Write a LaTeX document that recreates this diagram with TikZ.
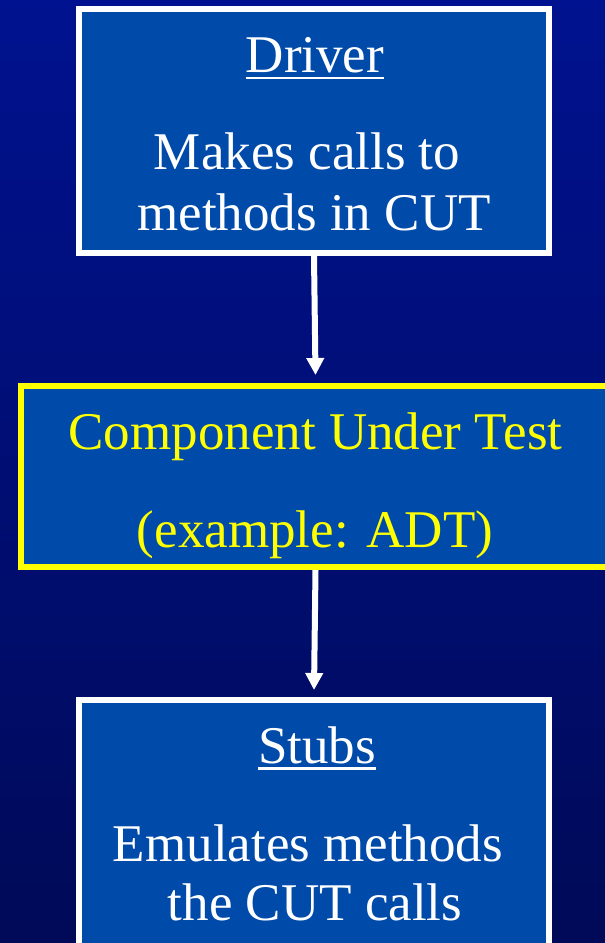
\documentclass[tikz,border=0pt]{standalone}
\usepackage{fontspec}
\setmainfont{Liberation Serif}
\usetikzlibrary{arrows.meta}
\definecolor{bgtop}{HTML}{00128F}
\definecolor{bgbot}{HTML}{000A58}
\definecolor{boxfill}{HTML}{004AAA}
\definecolor{cutyellow}{HTML}{FFFF00}
\begin{document}
\begin{tikzpicture}[x=1pt,y=-1pt,
  box/.style={rectangle,draw=white,line width=6pt,fill=boxfill,inner sep=0pt},
  cutbox/.style={box,draw=cutyellow},
  label/.style={text=white,inner sep=0pt,anchor=base,font=\fontsize{53}{61}\selectfont},
  ylabel/.style={label,text=cutyellow},
  uline/.style={draw=white,line width=2.5pt},
  flow/.style={draw=white,line width=6pt,-{Triangle[width=17pt,length=17pt]}}]
\useasboundingbox (0,0) rectangle (605,943);
\clip (0,0) rectangle (605,943);
\shade[top color=bgtop,bottom color=bgbot] (0,0) rectangle (605,943);
% boxes
\node[box,minimum width=470pt,minimum height=244pt] (driver) at (314,131) {};
\node[cutbox,minimum width=589pt,minimum height=181pt] (cut) at (315.5,476.5) {};
\node[box,minimum width=470pt,minimum height=246pt] (stubs) at (314,823) {};
% connectors
\draw[flow] (driver.south) -- ([yshift=8pt]cut.north);
\draw[flow] (cut.south) -- ([yshift=7pt]stubs.north);
% texts
\node[label] (dtitle) at (315,72) {Driver};
\draw[uline] ([yshift=-6pt]dtitle.base west) -- ([yshift=-6pt]dtitle.base east);
\node[label] (d1) at (307,169) {Makes calls to};
\node[label] (d2) at (314,230) {methods in CUT};
\node[ylabel] (c1) at (315.5,449) {Component Under Test};
\node[ylabel] (c2) at (315,547) {(example: ADT)};
\node[label] (stitle) at (317,763) {Stubs};
\draw[uline] ([yshift=-5.5pt]stitle.base west) -- ([yshift=-5.5pt]stitle.base east);
\node[label] (s1) at (308,861) {Emulates methods};
\node[label] (s2) at (315,920) {the CUT calls};
\end{tikzpicture}
\end{document}
